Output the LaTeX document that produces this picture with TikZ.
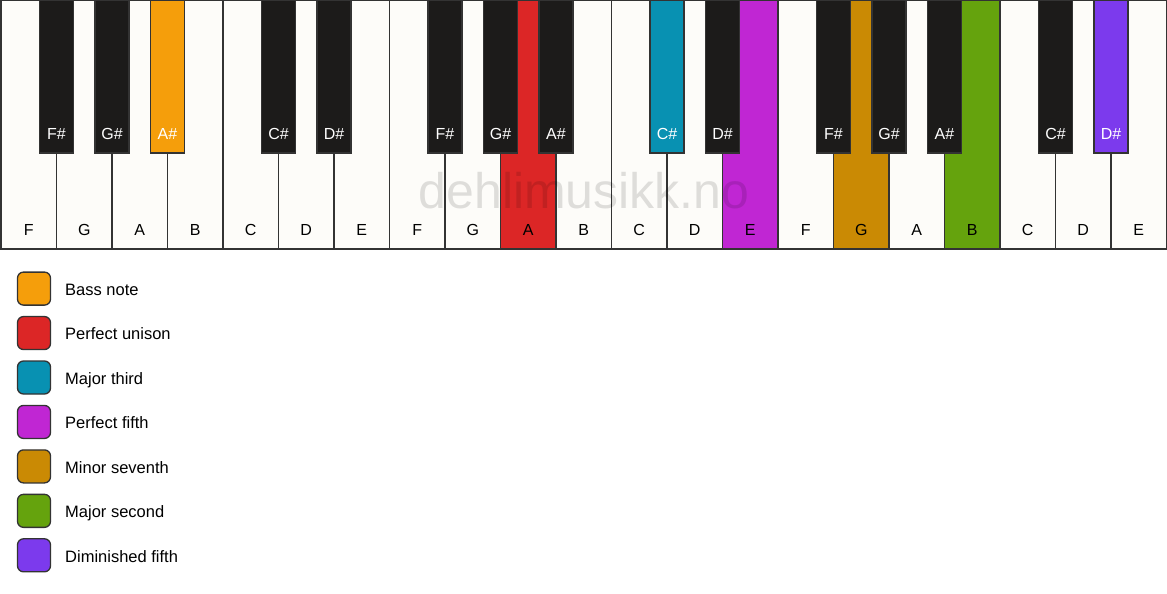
\documentclass[tikz,border=0pt]{standalone}
\usepackage{fontspec}
\setmainfont{Liberation Sans}
\definecolor{whitekey}{HTML}{FDFCF9}
\definecolor{blackkey}{HTML}{1C1B1A}
\definecolor{keyline}{HTML}{333333}
\definecolor{cbass}{HTML}{F59E0B}
\definecolor{cuni}{HTML}{DC2626}
\definecolor{cthird}{HTML}{0891B2}
\definecolor{cfifth}{HTML}{C026D3}
\definecolor{cseventh}{HTML}{CA8A04}
\definecolor{csecond}{HTML}{65A30D}
\definecolor{cdim}{HTML}{7C3AED}
\begin{document}
\begin{tikzpicture}[x=1pt,y=-1pt,
  wkey/.style={rectangle, draw=keyline, line width=1.2pt, minimum width=55.5pt, minimum height=249pt, inner sep=0pt, outer sep=0pt, anchor=north west},
  bkey/.style={rectangle, draw=keyline, line width=1.2pt, minimum width=34pt, minimum height=153pt, inner sep=0pt, outer sep=0pt, anchor=north},
  wlab/.style={anchor=base, inner sep=0pt, text=black, font=\fontsize{16}{19}\selectfont},
  blab/.style={anchor=base, inner sep=0pt, text=white, font=\fontsize{16}{19}\selectfont},
  swatch/.style={rectangle, rounded corners=6pt, draw=keyline, line width=1.3pt, minimum size=33pt, inner sep=0pt},
  legtext/.style={anchor=base west, inner sep=0pt, text=black, font=\fontsize{16.5}{20}\selectfont},
  wmark/.style={anchor=base, inner sep=0pt, text=black, text opacity=0.12, font=\fontsize{50}{58}\selectfont}
]
\useasboundingbox (0,0) rectangle (1167,594);
\fill[white] (0,0) rectangle (1167,594);
% white keys
\foreach \i/\n/\c in {0/F/whitekey,1/G/whitekey,2/A/whitekey,3/B/whitekey,4/C/whitekey,5/D/whitekey,6/E/whitekey,
  7/F/whitekey,8/G/whitekey,9/A/cuni,10/B/whitekey,11/C/whitekey,12/D/whitekey,13/E/cfifth,
  14/F/whitekey,15/G/cseventh,16/A/whitekey,17/B/csecond,18/C/whitekey,19/D/whitekey,20/E/whitekey}{
  \node[wkey, fill=\c] (w\i) at ({1+55.5*\i},0) {};
  \node[wlab] (wl\i) at ({1+55.5*\i+27.75},235.7) {\n};
}
% watermark
\node[wmark] (wm) at (584,208) {dehlimusikk.no};
% black keys
\foreach \i/\n/\c in {0/F\#/blackkey,1/G\#/blackkey,2/A\#/cbass,4/C\#/blackkey,5/D\#/blackkey,
  7/F\#/blackkey,8/G\#/blackkey,9/A\#/blackkey,11/C\#/cthird,12/D\#/blackkey,
  14/F\#/blackkey,15/G\#/blackkey,16/A\#/blackkey,18/C\#/blackkey,19/D\#/cdim}{
  \node[bkey, fill=\c] (b\i) at ({1+55.5*(\i+1)},0) {};
  \node[blab] (bl\i) at ({1+55.5*(\i+1)},139) {\n};
}
% legend
\foreach \k/\c/\t in {0/cbass/Bass note,1/cuni/Perfect unison,2/cthird/Major third,3/cfifth/Perfect fifth,
  4/cseventh/Minor seventh,5/csecond/Major second,6/cdim/Diminished fifth}{
  \node[swatch, fill=\c] (s\k) at (34,{288.6+44.45*\k}) {};
  \node[legtext] (t\k) at (65,{295.5+44.45*\k}) {\t};
}
\end{tikzpicture}
\end{document}
